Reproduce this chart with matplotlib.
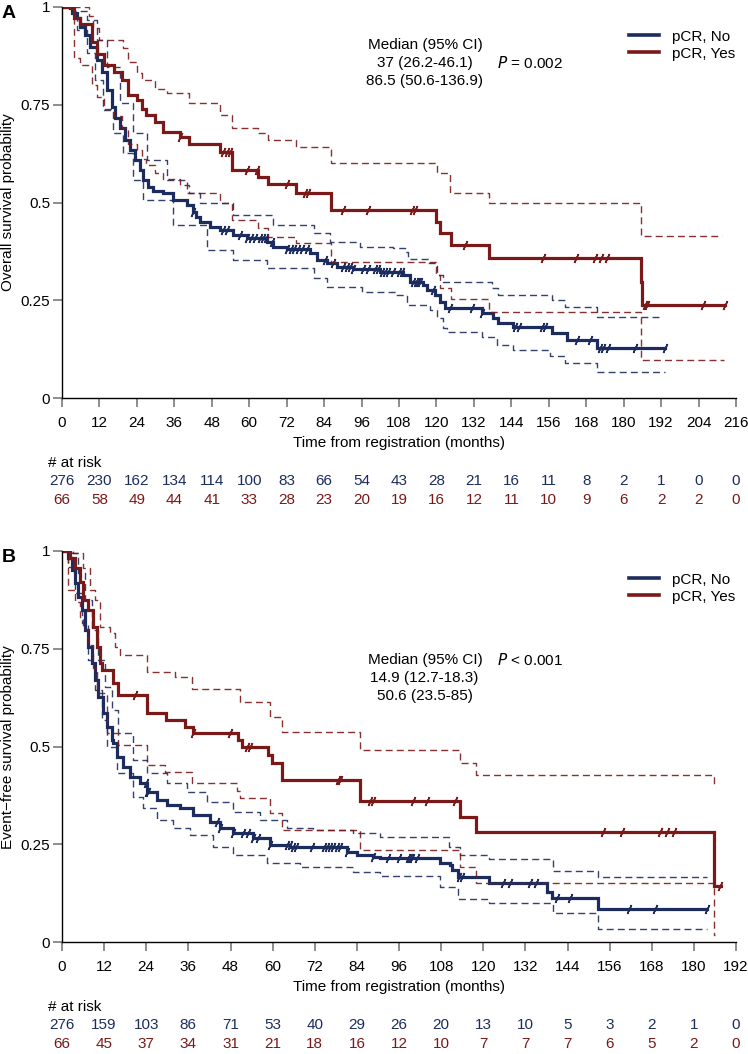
import numpy as np
import matplotlib
matplotlib.use("Agg")
import matplotlib.pyplot as plt
from matplotlib.lines import Line2D
from matplotlib.transforms import blended_transform_factory

plt.rcParams["font.family"] = ["Liberation Sans", "DejaVu Sans"]
plt.rcParams["font.size"] = 11

BLUE = "#1c2c5e"
RED = "#7b1818"
W, H = 748, 1054

# ---- Panel A: overall survival -------------------------------------------
os_no_t = [0, 2.6, 3.1, 4.7, 5.8, 7.4, 9.0, 11.1, 12.7, 14.3, 15.9, 17.0, 18.6, 20.2,
           21.8, 23.4, 25.0, 26.1, 27.7, 29.3, 32.5, 35.6, 40.0, 42.1, 43.1, 44.2, 47.4,
           50.6, 54.9, 59.2, 65.6, 67.7, 72.0, 79.5, 81.6, 84.8, 88.0, 93.4, 101.9, 109.4,
           111.5, 115.8, 116.9, 119.6, 121.2, 122.8, 134.5, 138.2, 139.8, 144.6, 157.0,
           161.8, 171.4, 193.3]
os_no_s = [1.0, 0.996, 0.985, 0.970, 0.949, 0.928, 0.898, 0.864, 0.834, 0.787, 0.745, 0.715,
           0.689, 0.660, 0.634, 0.609, 0.583, 0.558, 0.540, 0.530, 0.523, 0.506, 0.494, 0.477,
           0.464, 0.451, 0.438, 0.430, 0.417, 0.409, 0.400, 0.387, 0.380, 0.370, 0.353, 0.345,
           0.336, 0.329, 0.323, 0.315, 0.298, 0.289, 0.277, 0.264, 0.247, 0.230, 0.217, 0.204,
           0.193, 0.181, 0.166, 0.149, 0.128, 0.128]
os_no_up_t = [0, 3.4, 7.9, 11.1, 14.3, 18.6, 22.9, 27.1, 33.5, 40.0, 44.2, 54.9, 67.7, 80.6,
              85.9, 95.5, 106.2, 109.9, 111.0, 117.4, 120.1, 122.2, 137.7, 139.8, 157.0,
              161.2, 171.4, 192.2]
os_no_up_s = [1.0, 0.99, 0.966, 0.915, 0.847, 0.753, 0.677, 0.609, 0.558, 0.523, 0.498, 0.468,
              0.443, 0.421, 0.400, 0.387, 0.383, 0.374, 0.355, 0.345, 0.315, 0.298, 0.281,
              0.264, 0.251, 0.234, 0.207, 0.207]
os_no_lo_t = [0, 3.5, 4.7, 7.9, 10.6, 13.2, 16.4, 19.6, 22.9, 26.1, 35.7, 46.4, 54.9, 65.6,
              80.6, 84.8, 96.0, 106.7, 110.5, 117.9, 120.1, 122.2, 123.3, 134.5, 139.3, 144.6,
              156.4, 161.2, 171.4, 193.3]
os_no_lo_s = [1.0, 0.98, 0.94, 0.881, 0.813, 0.736, 0.677, 0.626, 0.558, 0.506, 0.443, 0.379,
              0.353, 0.332, 0.306, 0.285, 0.272, 0.264, 0.238, 0.225, 0.204, 0.179, 0.170,
              0.157, 0.136, 0.123, 0.108, 0.089, 0.068, 0.068]
os_no_cens = [42.1, 51.7, 52.8, 57.0, 59.2, 60.5, 61.8, 63.5, 64.5, 65.5, 67.2, 72.0, 73.5,
              74.5, 75.5, 77.0, 78.4, 84.2, 86.9, 90.2, 91.3, 92.4, 93.4, 96.6, 98.2, 100.3,
              101.4, 102.5, 103.5, 104.6, 106.2, 107.9, 109.1, 112.6, 113.3, 114.0, 114.7,
              119.0, 124.4, 131.3, 134.5, 145.2, 146.3, 153.7, 154.8, 165.0, 169.2, 172.4,
              173.5, 175.1, 183.7, 193.3]

os_yes_t = [0, 3.8, 5.8, 9.5, 11.1, 13.5, 16.7, 19.1, 21.0, 23.9, 25.5, 26.8, 29.8, 32.5,
            37.8, 40.8, 50.6, 54.4, 62.9, 65.9, 74.9, 86.2, 119.9, 121.2, 124.6, 137.0,
            185.6, 186.0, 212.5]
os_yes_s = [1.0, 0.97, 0.955, 0.91, 0.88, 0.85, 0.834, 0.813, 0.775, 0.762, 0.74, 0.723,
            0.706, 0.681, 0.666, 0.649, 0.630, 0.583, 0.566, 0.546, 0.525, 0.481, 0.451,
            0.421, 0.391, 0.357, 0.298, 0.238, 0.238]
os_yes_up_t = [0, 8.5, 9.8, 12.0, 19.5, 21.0, 23.9, 25.5, 29.8, 33.5, 40.8, 50.6, 54.4, 62.9,
               65.9, 74.9, 86.2, 120.1, 124.4, 137.0, 185.6, 211.4]
os_yes_up_s = [1.0, 0.975, 0.945, 0.915, 0.895, 0.86, 0.83, 0.813, 0.79, 0.78, 0.754, 0.723,
               0.689, 0.677, 0.66, 0.643, 0.60, 0.576, 0.525, 0.498, 0.414, 0.414]
os_yes_lo_t = [0, 3.8, 5.8, 9.5, 11.1, 13.5, 16.7, 19.1, 21.0, 23.9, 25.5, 26.8, 29.8, 32.5,
               37.8, 40.8, 50.6, 54.4, 62.9, 65.9, 74.9, 86.2, 119.9, 121.2, 124.6, 137.0,
               185.6, 212.0]
os_yes_lo_s = [1.0, 0.87, 0.85, 0.80, 0.77, 0.74, 0.72, 0.69, 0.65, 0.635, 0.61, 0.595, 0.575,
               0.56, 0.545, 0.525, 0.50, 0.455, 0.435, 0.413, 0.396, 0.349, 0.315, 0.282,
               0.254, 0.221, 0.098, 0.098]
os_yes_cens = [37.8, 51.7, 52.8, 53.8, 59.2, 62.4, 72.0, 77.9, 78.9, 90.2, 98.2, 112.1, 113.1,
               129.2, 154.3, 164.7, 170.8, 172.6, 174.6, 186.9, 187.6, 205.5, 212.5]

os_risk_no = [276, 230, 162, 134, 114, 100, 83, 66, 54, 43, 28, 21, 16, 11, 8, 2, 1, 0, 0]
os_risk_yes = [66, 58, 49, 44, 41, 33, 28, 23, 20, 19, 16, 12, 11, 10, 9, 6, 2, 2, 0]

# ---- Panel B: event-free survival ----------------------------------------
efs_no_t = [0, 1.8, 2.8, 3.7, 4.6, 5.6, 6.6, 7.5, 8.5, 9.4, 10.3, 11.8, 12.7, 14.2, 14.6,
            15.6, 17.5, 19.4, 22.2, 24.1, 27.0, 29.8, 33.6, 37.4, 42.2, 45.0, 48.8, 54.5,
            59.3, 65.0, 81.1, 84.0, 88.7, 90.6, 107.7, 110.5, 111.0, 112.9, 121.5, 138.1,
            139.5, 152.8, 183.7]
efs_no_s = [1.0, 0.981, 0.951, 0.917, 0.883, 0.849, 0.798, 0.755, 0.713, 0.670, 0.628, 0.585,
            0.551, 0.517, 0.509, 0.474, 0.449, 0.423, 0.406, 0.385, 0.364, 0.351, 0.342,
            0.325, 0.308, 0.291, 0.279, 0.266, 0.249, 0.243, 0.232, 0.223, 0.219, 0.215,
            0.203, 0.198, 0.185, 0.166, 0.151, 0.129, 0.112, 0.084, 0.084]
efs_no_up_t = [0, 2.8, 4.6, 6.6, 8.5, 10.3, 12.3, 14.2, 16.0, 20.3, 24.1, 29.8, 35.5, 41.2,
               48.8, 56.4, 64.0, 71.6, 83.0, 90.6, 110.3, 113.4, 121.5, 140.0, 152.8, 183.7]
efs_no_up_s = [1.0, 0.994, 0.943, 0.875, 0.798, 0.721, 0.653, 0.594, 0.534, 0.466, 0.432,
               0.406, 0.385, 0.359, 0.334, 0.313, 0.291, 0.287, 0.279, 0.270, 0.243, 0.223,
               0.212, 0.183, 0.166, 0.166]
efs_no_lo_t = [0, 1.8, 3.7, 5.6, 7.5, 9.4, 11.3, 12.7, 15.6, 20.3, 23.2, 27.0, 31.7, 36.5,
               43.1, 48.8, 58.3, 67.8, 83.0, 90.6, 107.7, 112.9, 121.5, 140.0, 152.8, 183.7]
efs_no_lo_s = [1.0, 0.960, 0.892, 0.815, 0.721, 0.645, 0.568, 0.500, 0.432, 0.372, 0.342,
               0.313, 0.291, 0.274, 0.244, 0.223, 0.202, 0.193, 0.180, 0.170, 0.142, 0.110,
               0.100, 0.074, 0.033, 0.033]
efs_no_cens = [23.8, 24.1, 24.4, 44.2, 45.0, 48.8, 51.7, 53.1, 54.5, 55.9, 59.3, 64.0, 64.9,
               65.9, 66.8, 71.1, 74.5, 75.4, 76.4, 77.3, 78.3, 79.2, 81.1, 88.7, 93.0, 96.1,
               98.7, 99.2, 99.6, 101.0, 113.2, 113.9, 125.7, 127.6, 133.3, 135.0, 140.9,
               144.7, 161.6, 168.9, 183.7]

efs_yes_t = [0, 2.3, 3.7, 5.1, 6.1, 7.5, 8.9, 9.9, 10.8, 11.3, 14.6, 16.0, 24.1, 29.5, 35.0,
             37.4, 50.2, 51.2, 58.8, 59.7, 62.6, 84.9, 113.4, 117.9, 185.6, 187.6]
efs_yes_s = [1.0, 0.981, 0.956, 0.922, 0.875, 0.849, 0.807, 0.755, 0.713, 0.696, 0.662, 0.632,
             0.585, 0.568, 0.551, 0.536, 0.517, 0.500, 0.479, 0.457, 0.415, 0.361, 0.321,
             0.281, 0.144, 0.144]
efs_yes_up_t = [0, 3.2, 6.1, 8.0, 9.4, 10.8, 13.7, 15.1, 16.5, 24.1, 32.2, 37.0, 50.7, 59.3,
                62.6, 84.9, 113.4, 117.9, 185.6, 186.0]
efs_yes_up_s = [1.0, 0.994, 0.956, 0.900, 0.875, 0.807, 0.790, 0.755, 0.734, 0.692, 0.679,
                0.647, 0.615, 0.577, 0.537, 0.491, 0.459, 0.428, 0.398, 0.398]
efs_yes_lo_t = [0, 1.8, 3.7, 5.1, 6.1, 7.5, 8.9, 9.9, 12.7, 16.0, 24.1, 29.3, 36.9, 49.8,
                50.7, 59.3, 62.6, 84.9, 113.4, 117.9, 185.6, 186.0]
efs_yes_lo_s = [1.0, 0.900, 0.87, 0.832, 0.80, 0.76, 0.70, 0.636, 0.534, 0.504, 0.453, 0.436,
                0.406, 0.387, 0.370, 0.330, 0.287, 0.236, 0.193, 0.152, 0.019, 0.019]
efs_yes_cens = [20.8, 37.4, 47.9, 52.6, 53.6, 78.7, 79.2, 87.7, 88.5, 100.1, 103.9, 112.0,
                154.2, 159.5, 170.4, 172.4, 174.4, 187.5]

efs_risk_no = [276, 159, 103, 86, 71, 53, 40, 29, 26, 20, 13, 10, 5, 3, 2, 1, 0]
efs_risk_yes = [66, 45, 37, 34, 31, 21, 18, 16, 12, 10, 7, 7, 7, 6, 5, 2, 0]


def fx(px):
    return px / W


def fy(py):
    return 1 - py / H


def surv_at(t, s, x):
    idx = np.searchsorted(t, x, side="right") - 1
    return np.asarray(s)[idx]


def draw_group(ax, color, t, s, up_t, up_s, lo_t, lo_s, cens):
    dash = dict(color=color, lw=1.0, dashes=(5, 3), alpha=0.9)
    ax.step(up_t, up_s, where="post", **dash)
    ax.step(lo_t, lo_s, where="post", **dash)
    ax.step(t, s, where="post", color=color, lw=2.3, solid_joinstyle="miter")
    ax.plot(cens, surv_at(t, s, cens), ls="none", marker=(2, 2, -25),
            ms=7, mew=1.1, color=color)


def style_axes(ax, xmax, ylabel):
    ax.set_xlim(0, xmax)
    ax.set_ylim(0, 1)
    ax.set_xticks(np.arange(0, xmax + 1, 12))
    ax.set_yticks([0, 0.25, 0.5, 0.75, 1])
    ax.set_yticklabels(["0", "0.25", "0.5", "0.75", "1"])
    for side in ("top", "right"):
        ax.spines[side].set_visible(False)
    for side in ("left", "bottom"):
        ax.spines[side].set_linewidth(1.0)
    ax.tick_params(direction="out", length=6.5, width=1.2, color="#7a7a7a",
                   labelsize=11, pad=6)
    ax.tick_params(axis="y", pad=2)
    ax.set_ylabel(ylabel, fontsize=11, labelpad=4)


def risk_table(ax, fig, xmax, top_px, no_vals, yes_vals):
    tr = blended_transform_factory(ax.transData, fig.transFigure)
    ticks = np.arange(0, xmax + 1, 12)
    fig.text(fx(399), fy(top_px), "Time from registration (months)",
             ha="center", va="center", fontsize=11)
    fig.text(fx(48), fy(top_px + 20), "# at risk", ha="left", va="center", fontsize=11)
    for x, n in zip(ticks, no_vals):
        ax.text(x, fy(top_px + 38), str(n), transform=tr, ha="center", va="center",
                color=BLUE, fontsize=11)
    for x, n in zip(ticks, yes_vals):
        ax.text(x, fy(top_px + 57), str(n), transform=tr, ha="center", va="center",
                color=RED, fontsize=11)


def add_legend(ax, fig, top_px):
    handles = [Line2D([], [], color=BLUE, lw=2.6), Line2D([], [], color=RED, lw=2.6)]
    ax.legend(handles, ["pCR, No", "pCR, Yes"], loc="upper left",
              bbox_to_anchor=(fx(621), fy(top_px)), bbox_transform=fig.transFigure,
              frameon=False, borderpad=0, handlelength=2.0, handletextpad=0.85,
              labelspacing=0.2, fontsize=11)


fig = plt.figure(figsize=(W / 100, H / 100), dpi=100)

# Panel A
ax_a = fig.add_axes([fx(62), fy(398.3), 674 / W, 391.6 / H])
draw_group(ax_a, BLUE, os_no_t, os_no_s, os_no_up_t, os_no_up_s, os_no_lo_t, os_no_lo_s,
           os_no_cens)
draw_group(ax_a, RED, os_yes_t, os_yes_s, os_yes_up_t, os_yes_up_s, os_yes_lo_t, os_yes_lo_s,
           os_yes_cens)
style_axes(ax_a, 216, "Overall survival probability")
risk_table(ax_a, fig, 216, 443, os_risk_no, os_risk_yes)
add_legend(ax_a, fig, 22)
fig.text(fx(425), fy(45), "Median (95% CI)", ha="center", va="center", fontsize=11)
fig.text(fx(425), fy(63), "37 (26.2-46.1)", ha="center", va="center", fontsize=11)
fig.text(fx(424), fy(81), "86.5 (50.6-136.9)", ha="center", va="center", fontsize=11)
fig.text(fx(497), fy(63), r"$\it{P}$ = 0.002", ha="left", va="center", fontsize=11)
fig.text(fx(2), fy(13), "A", ha="left", va="center", fontsize=14, fontweight="bold")

# Panel B
ax_b = fig.add_axes([fx(62), fy(942.3), 674 / W, 391.3 / H])
draw_group(ax_b, BLUE, efs_no_t, efs_no_s, efs_no_up_t, efs_no_up_s, efs_no_lo_t, efs_no_lo_s,
           efs_no_cens)
draw_group(ax_b, RED, efs_yes_t, efs_yes_s, efs_yes_up_t, efs_yes_up_s, efs_yes_lo_t,
           efs_yes_lo_s, efs_yes_cens)
style_axes(ax_b, 192, "Event\u2212free survival probability")
risk_table(ax_b, fig, 192, 987, efs_risk_no, efs_risk_yes)
add_legend(ax_b, fig, 565)
fig.text(fx(368), fy(660), "Median (95% CI)", ha="left", va="center", fontsize=11)
fig.text(fx(424), fy(678), "14.9 (12.7-18.3)", ha="center", va="center", fontsize=11)
fig.text(fx(425), fy(696), "50.6 (23.5-85)", ha="center", va="center", fontsize=11)
fig.text(fx(497), fy(660), r"$\it{P}$ < 0.001", ha="left", va="center", fontsize=11)
fig.text(fx(2), fy(557), "B", ha="left", va="center", fontsize=14, fontweight="bold")

fig.savefig("out.png", dpi=100)
